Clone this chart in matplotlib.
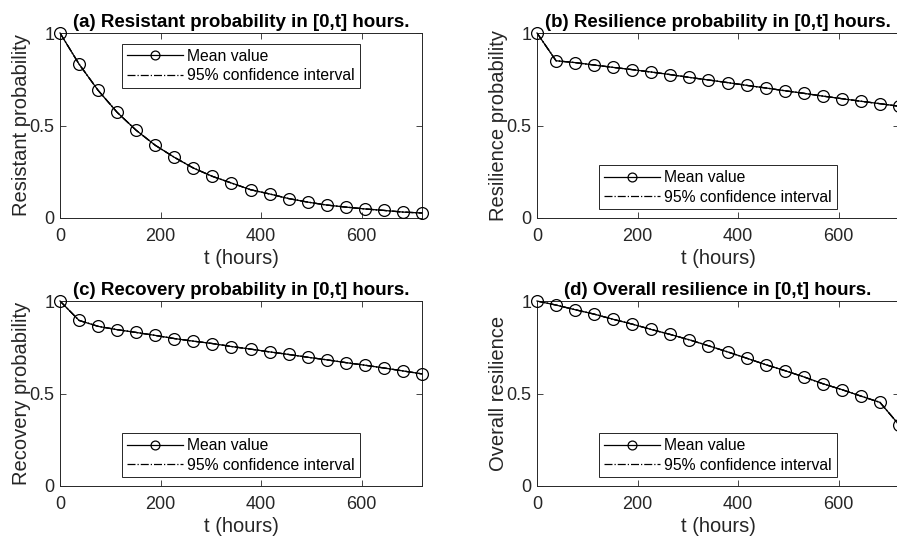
import matplotlib
matplotlib.use("Agg")
import matplotlib.pyplot as plt
import numpy as np

plt.rcParams['font.family'] = ['Liberation Sans', 'DejaVu Sans']

# time grid (hours), 20 samples from 0 to 720
t_hours = [0, 37.9, 75.8, 113.7, 151.6, 189.5, 227.4, 265.3, 303.2, 341.1,
           378.9, 416.8, 454.7, 492.6, 530.5, 568.4, 606.3, 644.2, 682.1, 720]

resistant = [1.0, 0.832, 0.690, 0.571, 0.474, 0.393, 0.328, 0.270, 0.225, 0.189,
             0.153, 0.130, 0.105, 0.086, 0.070, 0.059, 0.049, 0.041, 0.032, 0.027]
resilience = [1.0, 0.850, 0.840, 0.827, 0.814, 0.802, 0.789, 0.775, 0.760, 0.746,
              0.732, 0.717, 0.703, 0.688, 0.674, 0.659, 0.645, 0.631, 0.618, 0.604]
recovery = [1.0, 0.895, 0.863, 0.845, 0.830, 0.814, 0.797, 0.783, 0.770, 0.754,
            0.740, 0.725, 0.711, 0.696, 0.682, 0.667, 0.653, 0.638, 0.622, 0.606]
overall = [1.0, 0.978, 0.953, 0.929, 0.901, 0.875, 0.846, 0.819, 0.790, 0.758,
           0.725, 0.691, 0.656, 0.624, 0.590, 0.553, 0.521, 0.486, 0.452, 0.331]

# 95% CI bounds sit on top of the mean in the original
resistant_ci = resistant
resilience_ci = resilience
recovery_ci = recovery
overall_ci = overall

titles = ['(a) Resistant probability in [0,t] hours.',
          '(b) Resilience probability in [0,t] hours.',
          '(c) Recovery probability in [0,t] hours.',
          '(d) Overall resilience in [0,t] hours.']
ylabels = ['Resistant probability', 'Resilience probability',
           'Recovery probability', 'Overall resilience']
means = [resistant, resilience, recovery, overall]
cis = [resistant_ci, resilience_ci, recovery_ci, overall_ci]
legend_pos = ['north', 'south', 'south', 'south']

fig = plt.figure(figsize=(8.97, 5.41), dpi=100)
W, H = 897.0, 541.0
boxes = [(60, 33), (537, 33), (60, 301), (537, 301)]  # left, top in pixels
aw, ah = 362, 185

gray = '#262626'
for i in range(4):
    l, tp = boxes[i]
    ax = fig.add_axes([l / W, 1 - (tp + ah) / H, aw / W, ah / H])
    ax.plot(t_hours, means[i], '-o', color='k', lw=0.9, ms=8.5,
            mfc='none', mec='k', mew=0.9, label='Mean value', clip_on=False, zorder=3)
    ax.plot(t_hours, cis[i], '-.', color='k', lw=0.9, label='95% confidence interval')
    ax.plot(t_hours, cis[i], '-.', color='k', lw=0.9)
    ax.set_xlim(0, 720)
    ax.set_ylim(0, 1)
    ax.set_xticks([0, 200, 400, 600])
    ax.set_yticks([0, 0.5, 1])
    ax.set_yticklabels(['0', '0.5', '1'])
    ax.tick_params(direction='in', length=4, width=0.6, top=True, right=True,
                   labelsize=13, colors=gray)
    ax.tick_params(axis='x', pad=7)
    ax.tick_params(axis='y', pad=4)
    for s in ax.spines.values():
        s.set_color(gray)
        s.set_linewidth(0.7)
    ax.set_title(titles[i], fontsize=13.5, fontweight='bold', pad=4)
    ax.set_xlabel('t (hours)', fontsize=14.5, color=gray, labelpad=3)
    ax.set_ylabel(ylabels[i], fontsize=14.5, color=gray, labelpad=-1)
    legkw = dict(fontsize=11.3, borderaxespad=0, handlelength=3.6,
                 handletextpad=0.25, borderpad=0.3, labelspacing=0.28,
                 fancybox=False, markerscale=0.75)
    if legend_pos[i] == 'north':
        leg = ax.legend(loc='upper center', bbox_to_anchor=(0.5, 0.94), **legkw)
    else:
        leg = ax.legend(loc='lower center', bbox_to_anchor=(0.5, 0.047), **legkw)
    leg.get_frame().set_edgecolor(gray)
    leg.get_frame().set_linewidth(0.7)
    leg.get_frame().set_alpha(None)

fig.savefig('out.png', dpi=100)
